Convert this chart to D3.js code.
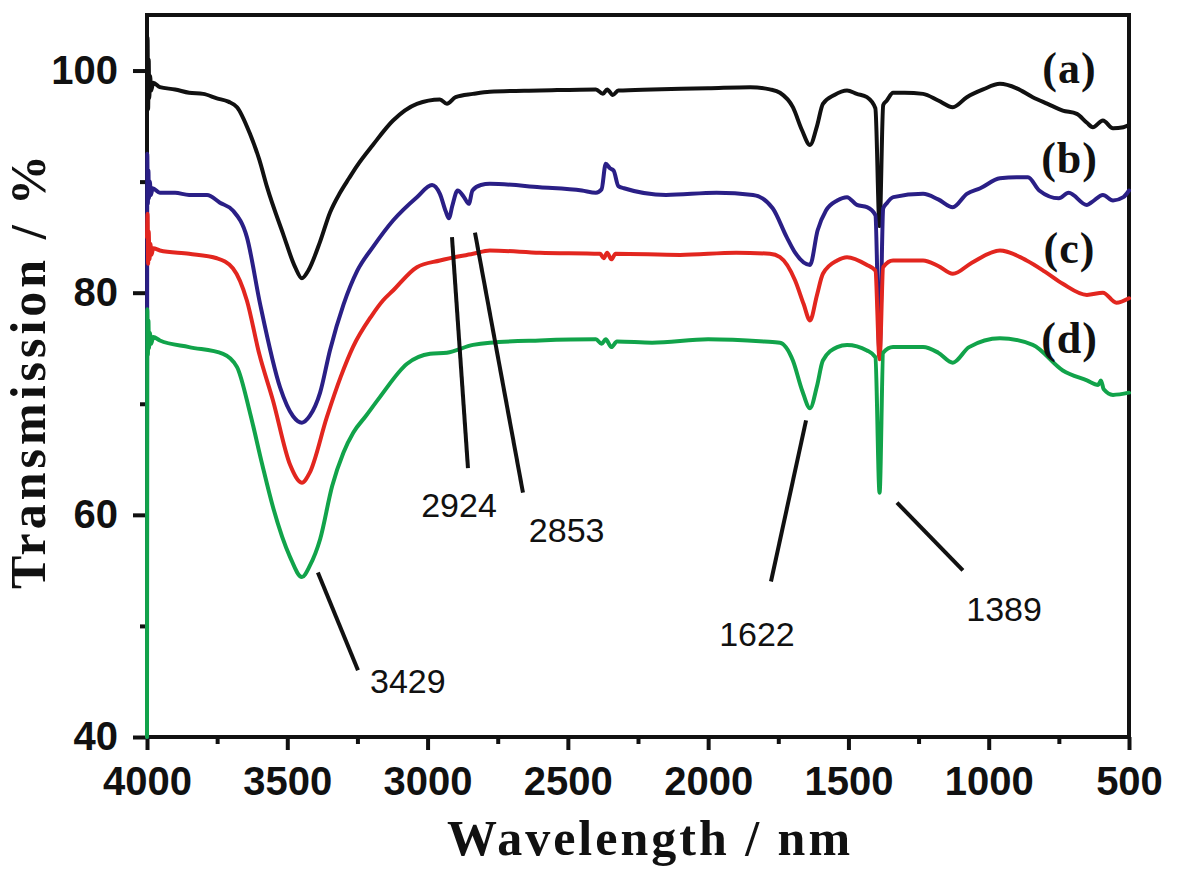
<!DOCTYPE html>
<html>
<head>
<meta charset="utf-8">
<script src="https://cdn.jsdelivr.net/npm/d3@7"></script>
<style>
  html, body { margin: 0; padding: 0; background: #fff; }
  svg { display: block; }
</style>
</head>
<body>
<svg id="chart" width="1200" height="869"></svg>
<script>
// ---------- DATA ----------
const xMajorTicks = [4000, 3500, 3000, 2500, 2000, 1500, 1000, 500];
const xMinorTicks = [3750, 3250, 2750, 2250, 1750, 1250, 750];
const yMajorTicks = [40, 60, 80, 100];
const yMinorTicks = [50, 70, 90];

const seriesNames = ["(a)", "(b)", "(c)", "(d)"];

// [wavenumber, transmission %]
const seriesA = [
  [4000, 97], [3998, 103], [3996, 96.5], [3994, 101], [3992, 97.5], [3989, 99.5], [3985, 98.2], [3978, 98.9],
  [3954, 98.5], [3900, 98.3], [3850, 98.0], [3800, 97.9], [3751, 97.5], [3710, 97.2], [3679, 96.7],
  [3633, 94.3], [3600, 92.0], [3572, 89.5], [3515, 85.3], [3472, 82.3], [3448, 81.3], [3425, 82.0],
  [3383, 84.6], [3348, 87.2], [3312, 89.0], [3280, 90.3], [3252, 91.4], [3195, 93.3], [3123, 95.5], [3038, 97.0],
  [2956, 97.4], [2931, 97.0], [2900, 97.6], [2838, 97.9], [2778, 98.1], [2600, 98.2], [2400, 98.3],
  [2375, 97.9], [2360, 98.3], [2340, 97.8], [2320, 98.2], [2200, 98.3], [2000, 98.4], [1850, 98.5],
  [1780, 98.3], [1744, 98.0], [1698, 96.7], [1665, 94.6], [1637, 93.3], [1612, 95.0], [1591, 97.0],
  [1550, 97.8], [1505, 98.2], [1470, 97.9], [1434, 97.6], [1404, 96.6], [1389, 86.0], [1376, 96.9],
  [1363, 97.3], [1341, 98.0], [1300, 98.0], [1234, 97.9], [1180, 97.3], [1128, 96.7], [1078, 97.6],
  [1020, 98.3], [960, 98.8], [900, 98.4], [843, 97.6], [790, 97.0], [736, 96.4], [686, 96.1],
  [650, 95.3], [629, 94.9], [593, 95.5], [557, 94.8], [520, 94.9], [500, 95.1]
];

const seriesB = [
  [4000, 40], [3999, 92.5], [3997, 88], [3995, 91], [3993, 88.5], [3990, 90], [3986, 88.8], [3980, 89.4],
  [3954, 89.0], [3900, 89.0], [3850, 88.8], [3786, 88.8], [3740, 88.1], [3694, 87.4], [3644, 85.0],
  [3597, 79.0], [3526, 71.5], [3480, 68.9], [3448, 68.3], [3420, 68.9], [3383, 71.0], [3348, 74.8],
  [3300, 78.9], [3250, 82.0], [3195, 84.1], [3123, 86.5], [3038, 88.6], [2984, 89.7], [2956, 88.9],
  [2935, 87.3], [2924, 86.7], [2912, 87.8], [2893, 89.2], [2870, 88.6], [2853, 88.0], [2840, 89.2],
  [2810, 89.7], [2778, 89.8], [2600, 89.5], [2450, 89.2], [2400, 89.0], [2380, 89.3], [2365, 91.6],
  [2350, 91.2], [2337, 91.0], [2320, 89.6], [2300, 89.4], [2150, 88.8], [1970, 89.0], [1840, 88.8],
  [1770, 87.6], [1720, 85.0], [1690, 83.6], [1637, 82.5], [1610, 85.6], [1580, 87.4], [1540, 88.3],
  [1505, 88.6], [1470, 87.9], [1434, 87.7], [1404, 87.0], [1389, 74.5], [1376, 87.6], [1365, 88.0],
  [1340, 88.6], [1234, 88.9], [1180, 88.4], [1128, 87.7], [1078, 88.9], [1030, 89.4], [960, 90.3],
  [900, 90.4], [860, 90.4], [820, 89.2], [750, 88.5], [715, 89.0], [650, 87.9], [630, 88.2],
  [593, 88.8], [557, 88.3], [520, 88.6], [500, 89.2]
];

const seriesC = [
  [4000, 85], [3998, 87.1], [3996, 82.6], [3994, 85.5], [3991, 83], [3988, 84.4], [3984, 83.4], [3978, 84.0],
  [3954, 83.8], [3850, 83.5], [3751, 83.1], [3694, 82.2], [3644, 79.3], [3600, 74.5], [3551, 70.3],
  [3490, 64.5], [3448, 62.9], [3420, 63.8], [3359, 68.8], [3310, 72.4], [3266, 75.1], [3200, 77.9],
  [3159, 79.3], [3123, 80.2], [3038, 82.3], [2956, 82.9], [2838, 83.5], [2778, 83.8], [2600, 83.6],
  [2385, 83.5], [2372, 83.1], [2360, 83.6], [2345, 83.0], [2330, 83.5], [2100, 83.4], [1900, 83.6],
  [1780, 83.5], [1744, 83.2], [1690, 81.1], [1660, 79.0], [1637, 77.5], [1612, 79.8], [1591, 81.7],
  [1540, 82.9], [1505, 83.2], [1434, 82.5], [1404, 82.0], [1389, 74.0], [1376, 82.3], [1341, 82.9],
  [1234, 82.9], [1180, 82.4], [1128, 81.7], [1060, 82.7], [960, 83.8], [865, 82.9], [800, 81.9],
  [736, 80.8], [650, 79.8], [593, 80.0], [545, 79.1], [500, 79.5]
];

const seriesD = [
  [4000, 40], [3999, 78.5], [3997, 74.4], [3995, 77.5], [3993, 75], [3990, 76.4], [3985, 75.4], [3978, 76.0],
  [3954, 75.7], [3850, 75.1], [3729, 74.5], [3679, 73.3], [3633, 69.2], [3590, 64.6], [3551, 60.7],
  [3490, 56.2], [3448, 54.4], [3420, 55.4], [3383, 57.8], [3340, 62.6], [3300, 65.6], [3265, 67.4],
  [3220, 68.9], [3170, 70.6], [3073, 73.6], [2991, 74.5], [2931, 74.6], [2838, 75.3], [2778, 75.5], [2600, 75.7],
  [2400, 75.8], [2380, 75.4], [2365, 75.8], [2345, 75.1], [2325, 75.6], [2200, 75.5], [2000, 75.8],
  [1800, 75.6], [1744, 75.5], [1698, 73.9], [1665, 71.2], [1637, 69.6], [1612, 71.6], [1591, 73.9],
  [1540, 75.1], [1505, 75.3], [1434, 74.8], [1404, 74.2], [1389, 62.0], [1376, 74.6], [1341, 75.1],
  [1234, 75.1], [1180, 74.6], [1128, 73.7], [1070, 75.1], [960, 75.9], [843, 75.3], [736, 73.0],
  [650, 72.1], [610, 71.7], [600, 72.1], [590, 71.3], [557, 70.8], [500, 71.0]
];

// annotations in data units: label, leader start [wn,T], leader end [wn,T], text anchor point [wn,T]
const annotLabels = ["3429", "2924", "2853", "1622", "1389"];
const annotFrom = [[3391, 54.8], [2913, 85.0], [2831, 85.4], [1651, 68.5], [1327, 61.1]];
const annotTo   = [[3248, 46.0], [2856, 64.2], [2660, 62.0], [1776, 54.0], [1092, 55.0]];
const annotText = [[3205, 44.0], [2888, 59.8], [2639, 57.6], [1826, 48.2], [1080, 50.4]];

// ---------- STYLE ----------
const colors = ["#111111", "#2a1f86", "#e2261f", "#11a34a"];

const svg = d3.select("#chart");
const x = d3.scaleLinear().domain([4000, 500]).range([147, 1129]);
const y = d3.scaleLinear().domain([40, 105]).range([737, 15]);

const tickFont = "bold 40px 'Liberation Sans', Arial, sans-serif";

// bottom axis
const gx = svg.append("g").attr("transform", "translate(0,737)");
gx.call(d3.axisBottom(x).tickValues(xMajorTicks).tickSize(13).tickPadding(17).tickFormat(d3.format("d")));
const gxm = svg.append("g").attr("transform", "translate(0,737)");
gxm.call(d3.axisBottom(x).tickValues(xMinorTicks).tickSize(7).tickFormat(""));

// left axis
const gy = svg.append("g").attr("transform", "translate(147,0)");
gy.call(d3.axisLeft(y).tickValues(yMajorTicks).tickSize(14).tickPadding(15).tickFormat(d3.format("d")));
const gym = svg.append("g").attr("transform", "translate(147,0)");
gym.call(d3.axisLeft(y).tickValues(yMinorTicks).tickSize(7).tickFormat(""));

[gx, gxm, gy, gym].forEach(g => {
  g.select(".domain").remove();
  g.selectAll(".tick line").attr("stroke", "#111").attr("stroke-width", 4);
  g.selectAll(".tick text").style("font", tickFont).attr("fill", "#111");
});

// frame
svg.append("rect")
  .attr("x", x(4000)).attr("y", y(105))
  .attr("width", x(500) - x(4000)).attr("height", y(40) - y(105))
  .attr("fill", "none").attr("stroke", "#111").attr("stroke-width", 4);

// curves
const line = d3.line()
  .x(d => x(d[0])).y(d => y(d[1]))
  .curve(d3.curveMonotoneX);

const allSeries = [seriesA, seriesB, seriesC, seriesD];
allSeries.forEach((s, i) => {
  svg.append("path")
    .datum(s)
    .attr("d", line)
    .attr("fill", "none")
    .attr("stroke", colors[i])
    .attr("stroke-width", 4)
    .attr("stroke-linejoin", "round")
    .attr("stroke-linecap", "round");
});

// series labels
const labelWn = 712;
const labelT = [98.9, 90.8, 82.7, 74.6];
seriesNames.forEach((n, i) => {
  svg.append("text")
    .attr("x", x(labelWn)).attr("y", y(labelT[i]))
    .attr("text-anchor", "middle")
    .style("font", "bold 44px 'Liberation Serif', 'Times New Roman', serif")
    .style("letter-spacing", "1px")
    .attr("fill", "#111")
    .text(n);
});

// annotations
annotLabels.forEach((lab, i) => {
  svg.append("line")
    .attr("x1", x(annotFrom[i][0])).attr("y1", y(annotFrom[i][1]))
    .attr("x2", x(annotTo[i][0])).attr("y2", y(annotTo[i][1]))
    .attr("stroke", "#111").attr("stroke-width", 4);
  const anchor = (i === 1 || i === 3) ? "middle" : "start";
  svg.append("text")
    .attr("x", x(annotText[i][0])).attr("y", y(annotText[i][1]))
    .attr("text-anchor", anchor)
    .style("font", "34px 'Liberation Sans', Arial, sans-serif")
    .attr("fill", "#111")
    .text(lab);
});

// axis titles
svg.append("text")
  .attr("x", 650).attr("y", 855)
  .attr("text-anchor", "middle")
  .style("font", "bold 50px 'Liberation Serif', 'Times New Roman', serif")
  .style("letter-spacing", "3px")
  .attr("fill", "#111")
  .text("Wavelength / nm");

svg.append("text")
  .attr("transform", "translate(45,370) rotate(-90)")
  .attr("text-anchor", "middle")
  .style("font", "bold 50px 'Liberation Serif', 'Times New Roman', serif")
  .style("letter-spacing", "4px")
  .attr("fill", "#111")
  .text("Transmission / %");
</script>
</body>
</html>
